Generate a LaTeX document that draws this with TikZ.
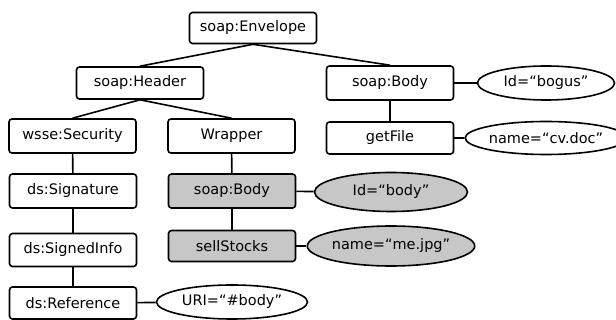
\documentclass[tikz,border=0pt]{standalone}
\usepackage{fontspec}
\setmainfont{DejaVu Sans}
\usetikzlibrary{shapes.geometric}
\begin{document}
\begin{tikzpicture}[x=1pt,y=-1pt,
  font=\fontsize{14.5}{16}\selectfont,
  elem/.style={draw, line width=1.6pt, rounded corners=3pt, minimum width=127pt, minimum height=32pt, inner sep=0pt},
  grayelem/.style={elem, fill=black!22},
  attr/.style={draw, ellipse, line width=1.6pt, inner sep=0pt},
  grayattr/.style={attr, fill=black!22},
  link/.style={line width=1.6pt}]
\useasboundingbox (0,0) rectangle (616,320);

% element boxes
\node[elem, minimum height=31pt] (env) at (253,28) {soap:Envelope};
\node[elem] (hdr) at (140,83) {soap:Header};
\node[elem, minimum height=34pt] (sec) at (72.5,136) {wsse:Security};
\node[elem, minimum height=34pt] (wrap) at (231.5,136) {Wrapper};
\node[elem, minimum height=34pt] (body) at (390,83) {soap:Body};
\node[elem] (getf) at (390,138) {getFile};
\node[elem, minimum height=34pt] (sig) at (73,191) {ds:Signature};
\node[elem, minimum height=33pt] (sinfo) at (73,250) {ds:SignedInfo};
\node[elem] (ref) at (73,303) {ds:Reference};
\node[grayelem, minimum height=34pt] (gbody) at (232,191) {soap:Body};
\node[grayelem, minimum height=31pt] (sell) at (232,246) {sellStocks};

% attribute ellipses
\node[attr, minimum width=137pt, minimum height=34pt] (bogus) at (546,83) {Id=“bogus”};
\node[attr, minimum width=137pt, minimum height=33pt] (cv) at (546,138) {name=“cv.doc”};
\node[grayattr, minimum width=153pt, minimum height=39pt] (idbody) at (391,192) {Id=“body”};
\node[grayattr, minimum width=152pt, minimum height=40pt] (me) at (391,246) {name=“me.jpg”};
\node[attr, minimum width=151pt, minimum height=34pt] (uri) at (232,302) {URI=“\#body”};

% tree connectors
\draw[link] (env.south) -- (hdr.north);
\draw[link] (env.south) -- (body.north);
\draw[link] (hdr.south) -- (sec.north);
\draw[link] (hdr.south) -- (wrap.north);
\draw[link] (sec) -- (sig);
\draw[link] (sig) -- (sinfo);
\draw[link] (sinfo) -- (ref);
\draw[link] (wrap) -- (gbody);
\draw[link] (gbody) -- (sell);
\draw[link] (body) -- (getf);

% attribute connectors
\draw[link] (body) -- (bogus);
\draw[link] (getf) -- (cv);
\draw[link] (gbody) -- (idbody);
\draw[link] (sell) -- (me);
\draw[link] (ref) -- (uri);
\end{tikzpicture}
\end{document}
